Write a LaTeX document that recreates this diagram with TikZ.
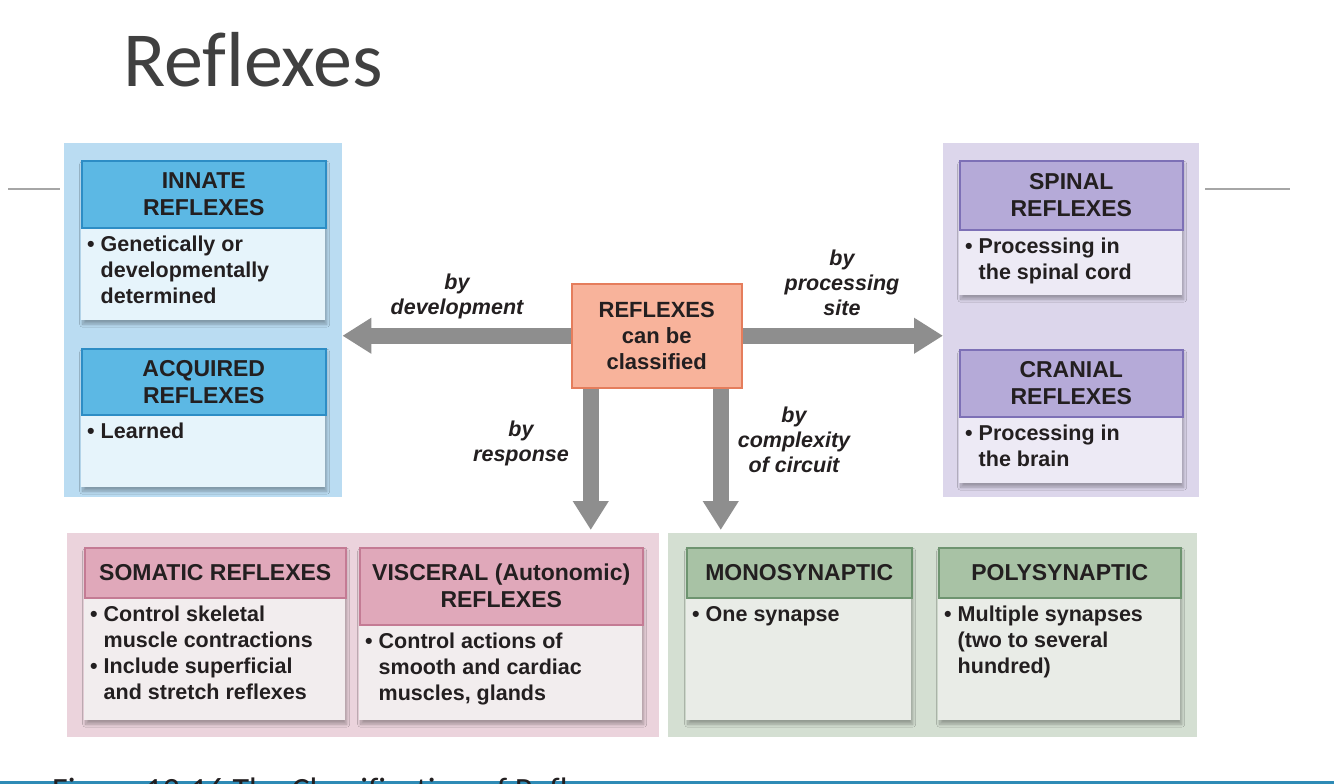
\documentclass[tikz,border=0pt]{standalone}
\usepackage{fontspec}
\setmainfont{Liberation Sans}
\newfontfamily\titlefont[Ligatures=NoCommon]{Carlito}
\usetikzlibrary{arrows.meta,shadows.blur,calc}
\definecolor{txt}{HTML}{231F20}
\definecolor{bluepanel}{HTML}{BADCF2}
\definecolor{bluehd}{HTML}{5CB8E4}
\definecolor{bluebo}{HTML}{2D8DC5}
\definecolor{bluebd}{HTML}{E6F4FB}
\definecolor{purplepanel}{HTML}{DCD6EB}
\definecolor{purplehd}{HTML}{B5AAD8}
\definecolor{purplebo}{HTML}{7D70B6}
\definecolor{purplebd}{HTML}{EDEAF5}
\definecolor{centerfill}{HTML}{F8B39B}
\definecolor{centerbo}{HTML}{E57D5C}
\definecolor{pinkpanel}{HTML}{EBD3DC}
\definecolor{pinkhd}{HTML}{E0A8BA}
\definecolor{pinkbo}{HTML}{C47B94}
\definecolor{pinkbd}{HTML}{F2EDEE}
\definecolor{greenpanel}{HTML}{D4DFD2}
\definecolor{greenhd}{HTML}{A8C2A5}
\definecolor{greenbo}{HTML}{6E9470}
\definecolor{greenbd}{HTML}{E9ECE7}
\definecolor{arrowgrey}{HTML}{8E8E8E}
\definecolor{titlegrey}{HTML}{404040}
\definecolor{rulegrey}{HTML}{A6A6A6}
\definecolor{slideblue}{HTML}{2E8BB6}
\newcommand\blist[1]{\begin{tabular}{@{}l@{\hspace{6pt}}l@{}}#1\end{tabular}}
\newcommand\rbox[9]{%
  \node[bd, fill=#7bd, minimum width={(#4-#2)*1pt}, minimum height={(#6-#3)*1pt}] (#1) at (#2,#3) {};
  \node[hd, draw=#7bo, fill=#7hd, minimum width={(#4-#2)*1pt}, minimum height={(#5-#3)*1pt}] (#1h) at (#2,#3) {#8};
  \node[bt] (#1t) at ($(#1h.south west)+(6,5)$) {\blist{#9}};
}
\tikzset{
  panel/.style={draw=none, inner sep=0, anchor=north west},
  hd/.style={line width=1.5pt, inner sep=0, anchor=north west, align=center, text=txt,
    font=\bfseries\fontsize{23}{27}\selectfont},
  bd/.style={draw=none, inner sep=0, anchor=north west,
    blur shadow={shadow xshift=1.5pt, shadow yshift=-4pt, shadow blur radius=3pt, shadow blur steps=8, shadow opacity=30}},
  bt/.style={inner sep=0, anchor=north west, align=left, text=txt,
    font=\bfseries\fontsize{21.5}{26}\selectfont},
  lab/.style={inner sep=0, align=center, text=txt,
    font=\bfseries\itshape\fontsize{21.5}{25}\selectfont},
  bigarrow/.style={draw=arrowgrey, line width=16pt, -{Triangle[width=34pt,length=29pt]}},
}
\begin{document}
\begin{tikzpicture}[x=1pt,y=-1pt]
\useasboundingbox[fill=white] (0,0) rectangle (1334,784);

% title
\node[anchor=base west, inner sep=0, text=titlegrey, font=\titlefont\fontsize{78}{80}\selectfont] (title) at (123,86) {Reflexes};

% slide rules
\coordinate (rl1) at (8,189); \coordinate (rl2) at (60,189);
\coordinate (rr1) at (1205,189); \coordinate (rr2) at (1290,189);
\draw[rulegrey, line width=1.2pt] (rl1) -- (rl2);
\draw[rulegrey, line width=1.2pt] (rr1) -- (rr2);

% panels
\node[panel, fill=bluepanel, minimum width=278pt, minimum height=354pt] (pblue) at (64,143) {};
\node[panel, fill=purplepanel, minimum width=256pt, minimum height=354pt] (ppurple) at (943,143) {};
\node[panel, fill=pinkpanel, minimum width=592pt, minimum height=204pt] (ppink) at (67,533) {};
\node[panel, fill=greenpanel, minimum width=529pt, minimum height=204pt] (pgreen) at (668,533) {};

% boxes
\rbox{innate}{81}{160}{325}{227}{320}{blue}{INNATE\\REFLEXES}{\textbullet & Genetically or\\ & developmentally\\ & determined}
\rbox{acquired}{81}{348}{325}{414}{487}{blue}{ACQUIRED\\REFLEXES}{\textbullet & Learned}
\rbox{spinal}{959}{160}{1182}{229}{295}{purple}{SPINAL\\REFLEXES}{\textbullet & Processing in\\ & the spinal cord}
\rbox{cranial}{959}{349}{1182}{416}{483}{purple}{CRANIAL\\REFLEXES}{\textbullet & Processing in\\ & the brain}
\rbox{somatic}{84}{547}{345}{597}{720}{pink}{SOMATIC REFLEXES}{\textbullet & Control skeletal\\ & muscle contractions\\ \textbullet & Include superficial\\ & and stretch reflexes}
\rbox{visceral}{359}{547}{642}{624}{720}{pink}{VISCERAL (Autonomic)\\REFLEXES}{\textbullet & Control actions of\\ & smooth and cardiac\\ & muscles, glands}
\rbox{mono}{686}{547}{911}{597}{720}{green}{MONOSYNAPTIC}{\textbullet & One synapse}
\rbox{poly}{938}{547}{1180}{597}{720}{green}{POLYSYNAPTIC}{\textbullet & Multiple synapses\\ & (two to several\\ & hundred)}

% center
\node[anchor=north west, fill=centerfill, draw=centerbo, line width=1.5pt, inner sep=0,
  minimum width=170pt, minimum height=104pt, align=center, text=txt,
  font=\bfseries\fontsize{22}{26}\selectfont] (c) at (571,283) {REFLEXES\\can be\\classified};

% arrows
\draw[bigarrow] (c.west) -- (c.west -| pblue.east);
\draw[bigarrow] (c.east) -- (c.east -| ppurple.west);
\draw[bigarrow] ([xshift=-66pt]c.south) -- ([xshift=-66pt,yshift=3pt]c.south |- ppink.north);
\draw[bigarrow] ([xshift=64pt]c.south) -- ([xshift=64pt,yshift=3pt]c.south |- pgreen.north);

% labels
\node[lab] (ldev) at (457,296) {by\\development};
\node[lab] (lsite) at (842,283) {by\\processing\\site};
\node[lab] (lresp) at (521,443) {by\\response};
\node[lab] (lcomp) at (794,440) {by\\complexity\\of circuit};

% bottom slide line and cut caption
\coordinate (bl1) at (0,782.5); \coordinate (bl2) at (1334,782.5);
\draw[slideblue, line width=3pt] (bl1) -- (bl2);
\node[anchor=base west, inner sep=0, text=txt, font=\titlefont\fontsize{34}{40}\selectfont] (caption) at (52,801) {Figure 13-16 The Classification of Refl};
\end{tikzpicture}
\end{document}
